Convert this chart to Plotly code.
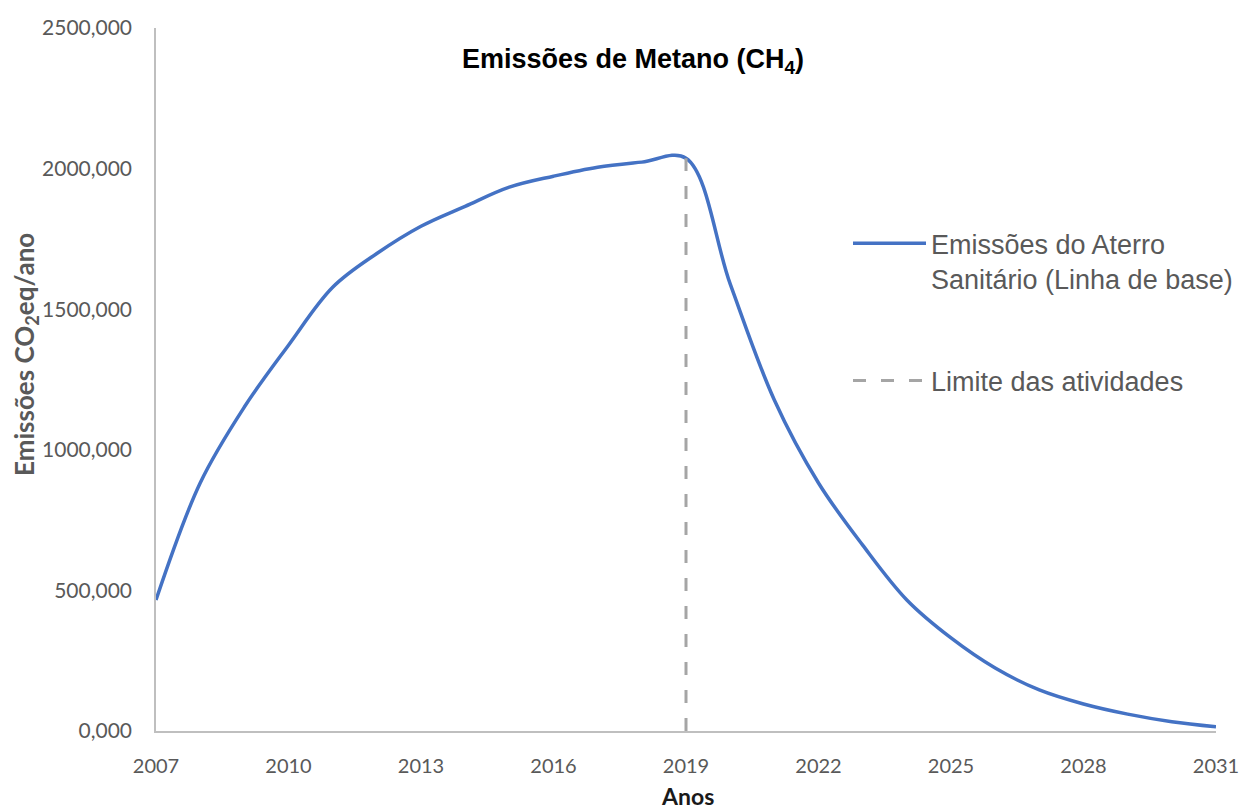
import plotly.graph_objects as go

years = list(range(2007, 2032))
emissions = [466000, 882000, 1152000, 1372000, 1578000, 1698000, 1795000, 1866000,
             1934000, 1973000, 2005000, 2023000, 2037000, 1590000, 1177000, 882000,
             661000, 466000, 331000, 224000, 146000, 96000, 60000, 33000, 15000]
limit_year = [2019, 2019]
limit_vals = [0, 2037000]

y_ticks = [0, 500000, 1000000, 1500000, 2000000, 2500000]
y_ticktext = ["0,000", "500,000", "1000,000", "1500,000", "2000,000", "2500,000"]
x_ticks = [2007, 2010, 2013, 2016, 2019, 2022, 2025, 2028, 2031]

fig = go.Figure()
fig.add_trace(go.Scatter(
    x=years, y=emissions, mode="lines", legendgroup="a",
    line=dict(color="#4472C4", width=3.5, shape="spline", smoothing=1.0),
    name="Emissões do Aterro<br>Sanitário (Linha de base)"))
fig.add_trace(go.Scatter(
    x=limit_year, y=limit_vals, mode="lines", legendgroup="b",
    line=dict(color="#A5A5A5", width=3, dash="13px,15px"),
    name="Limite das atividades"))

gray = "#595959"
W, H = 1243, 811
L, T = 156, 28
PW, PH = 1060, 703
fig.update_layout(
    width=W, height=H,
    margin=dict(l=L, r=W - L - PW, t=T, b=H - T - PH, autoexpand=False),
    paper_bgcolor="white", plot_bgcolor="white",
    showlegend=True,
    legend=dict(x=(848 - L) / PW, y=0.728, xanchor="left", yanchor="top",
                font=dict(family="Liberation Sans, Arial", size=27, color=gray),
                tracegroupgap=64, itemwidth=73, valign="top",
                bgcolor="rgba(0,0,0,0)"),
    xaxis=dict(range=[2007, 2031], tickvals=x_ticks, showgrid=False, zeroline=False,
               showline=True, linecolor="#BFBFBF", linewidth=1.5,
               ticks="outside", ticklen=16, tickcolor="rgba(0,0,0,0)",
               tickfont=dict(family="Lato, Calibri", size=20, color=gray)),
    yaxis=dict(range=[0, 2500000], tickvals=y_ticks, ticktext=y_ticktext,
               showgrid=False, zeroline=False,
               showline=True, linecolor="#BFBFBF", linewidth=1.5,
               ticks="outside", ticklen=18, tickcolor="rgba(0,0,0,0)",
               tickfont=dict(family="Lato, Calibri", size=21, color=gray)),
    annotations=[
        dict(text="<b>Emissões de Metano (CH<sub>4</sub>)</b>", xref="paper", yref="paper",
             x=(633 - L) / PW, y=(731 - 61) / PH, xanchor="center", yanchor="middle",
             showarrow=False,
             font=dict(family="Liberation Sans, Arial", size=27, color="black")),
        dict(text="<b>Emissões CO<sub>2</sub>eq/ano</b>", xref="paper", yref="paper",
             x=(25 - L) / PW, y=(731 - 355) / PH, xanchor="center", yanchor="middle",
             textangle=-90, showarrow=False,
             font=dict(family="Lato, Calibri", size=26, color=gray)),
        dict(text="<b>Anos</b>", xref="paper", yref="paper",
             x=(687 - L) / PW, y=(731 - 796) / PH, xanchor="center", yanchor="middle",
             showarrow=False,
             font=dict(family="Lato, Calibri", size=23, color="#1a1a1a")),
    ],
)

fig.write_html("out.html", config={"displayModeBar": False},
               post_script="document.body.style.margin='0';")
